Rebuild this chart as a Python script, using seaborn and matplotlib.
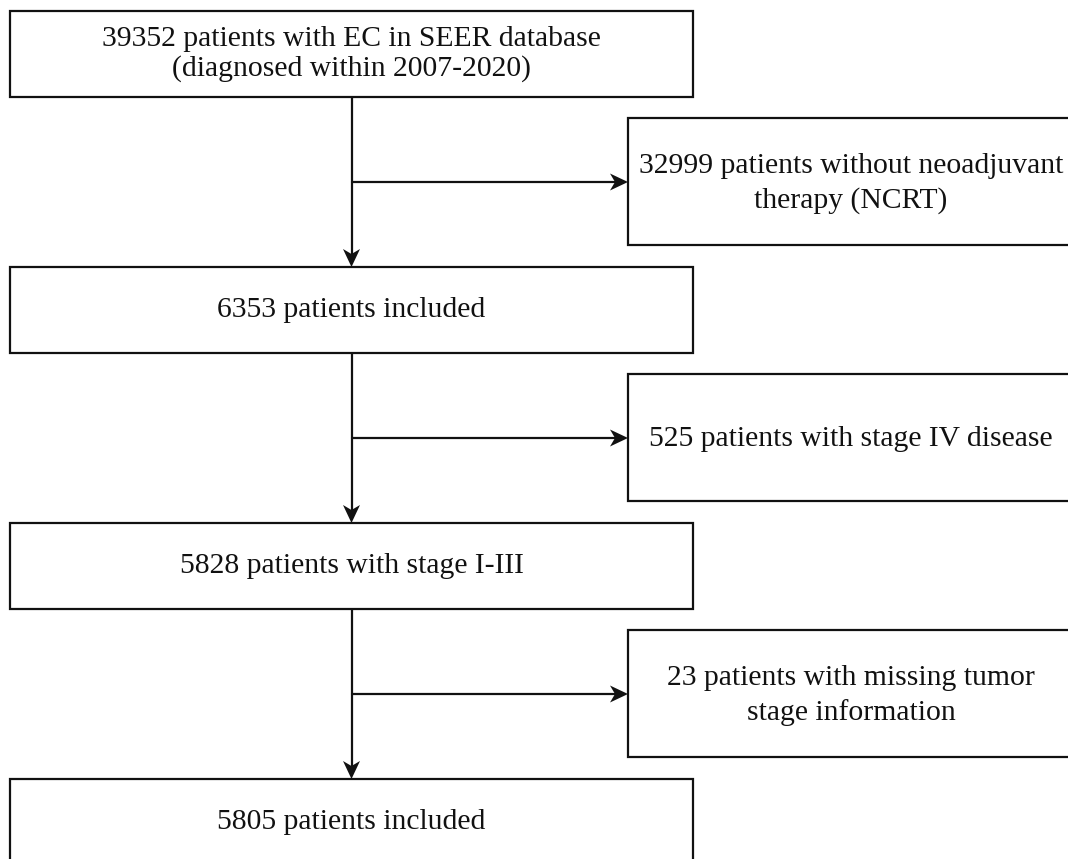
import matplotlib.pyplot as plt
from matplotlib.patches import Rectangle, Polygon
import seaborn as sns

# flowchart content
main_labels = [
    "39352 patients with EC in SEER database\n(diagnosed within 2007-2020)",
    "6353 patients included",
    "5828 patients with stage I-III",
    "5805 patients included",
]
excluded_labels = [
    "32999 patients without neoadjuvant\ntherapy (NCRT)",
    "525 patients with stage IV disease",
    "23 patients with missing tumor\nstage information",
]

# layout (pixel units, y grows downward)
W, H = 1068, 859
MAIN_X0, MAIN_X1 = 10, 693
MAIN_TOP0, STEP, MAIN_H = 11, 256, 86
SIDE_X0, SIDE_X1 = 628, 1075
SIDE_TOP0, SIDE_H = 118, 127
TRUNK_X = (MAIN_X0 + MAIN_X1) / 2
SIDE_TEXT_X = 851
LW = 1.6
EDGE = "#111111"
FS = 21.3

sns.set_theme(style="white")
plt.rcParams["font.family"] = ["Liberation Serif", "DejaVu Serif"]

fig = plt.figure(figsize=(W / 100, H / 100), dpi=100)
ax = fig.add_axes([0, 0, 1, 1])
ax.set_xlim(0, W)
ax.set_ylim(H, 0)
ax.axis("off")


def arrow_head(x, y, direction):
    # notched arrow head with tip at (x, y)
    L, hw, notch = 18, 8.5, 5
    if direction == "down":
        pts = [(x, y), (x - hw, y - L), (x, y - L + notch), (x + hw, y - L)]
    else:
        pts = [(x, y), (x - L, y - hw), (x - L + notch, y), (x - L, y + hw)]
    ax.add_patch(Polygon(pts, closed=True, color=EDGE, lw=0, zorder=4))


def box(x0, x1, top, h, text, tx, linespacing, dy=0):
    ax.add_patch(Rectangle((x0, top), x1 - x0, h, fill=True, facecolor="white",
                           edgecolor=EDGE, lw=LW, zorder=2))
    ax.text(tx, top + h / 2 + dy, text, ha="center", va="center", fontsize=FS,
            color="#111111", linespacing=linespacing, zorder=3)


for i, label in enumerate(main_labels):
    top = MAIN_TOP0 + i * STEP
    box(MAIN_X0, MAIN_X1, top, MAIN_H, label, TRUNK_X, 1.15)

for i, label in enumerate(excluded_labels):
    top = SIDE_TOP0 + i * STEP
    box(SIDE_X0, SIDE_X1, top, SIDE_H, label, SIDE_TEXT_X, 1.4, dy=2)

    # connectors: trunk down to next box, branch right to exclusion box
    y_start = MAIN_TOP0 + i * STEP + MAIN_H
    y_end = MAIN_TOP0 + (i + 1) * STEP
    y_branch = (y_start + y_end) / 2
    sns.lineplot(x=[TRUNK_X, TRUNK_X], y=[y_start, y_end - 10], ax=ax,
                 color=EDGE, lw=LW, sort=False, estimator=None, zorder=1)
    sns.lineplot(x=[TRUNK_X, SIDE_X0 - 10], y=[y_branch, y_branch], ax=ax,
                 color=EDGE, lw=LW, sort=False, estimator=None, zorder=1)
    arrow_head(TRUNK_X, y_end, "down")
    arrow_head(SIDE_X0, y_branch, "right")

fig.savefig("out.png", dpi=100)
